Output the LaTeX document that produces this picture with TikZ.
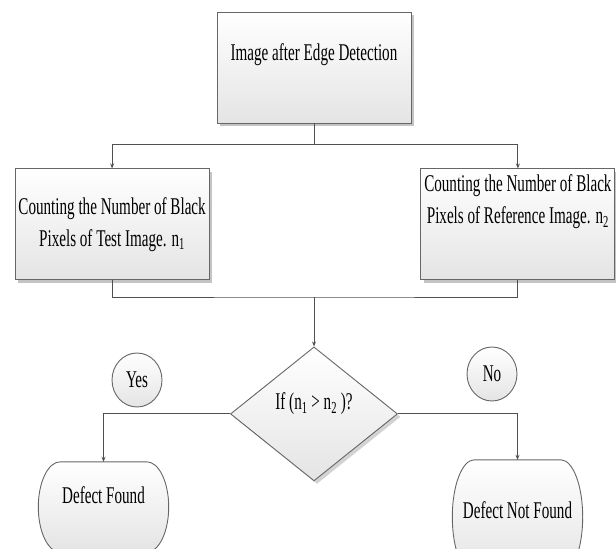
\documentclass[tikz,border=0pt]{standalone}
\usepackage{fontspec}
\setmainfont{Liberation Serif}[FakeStretch=0.63]
\usetikzlibrary{arrows.meta, positioning, shapes.geometric, shadows, calc, backgrounds}
\definecolor{inkgray}{HTML}{505050}
\definecolor{edgegray}{HTML}{666666}
\definecolor{paleshade}{HTML}{E4E4E4}
\definecolor{shadowgray}{HTML}{B5B5B5}
\newcommand{\chartfont}{\fontsize{24}{32}\selectfont}
% terminal outline: flat top and bottom, elliptic corners 22pt wide
\newcommand{\termoutline}[1]{%
  \draw[termline] ([xshift=22pt]#1.north west) -- ([xshift=-22pt]#1.north east)
    .. controls ([xshift=-9.8pt]#1.north east) and ($(#1.east)!0.552!(#1.north east)$) .. (#1.east)
    .. controls ($(#1.east)!0.552!(#1.south east)$) and ([xshift=-9.8pt]#1.south east) .. ([xshift=-22pt]#1.south east)
    -- ([xshift=22pt]#1.south west)
    .. controls ([xshift=9.8pt]#1.south west) and ($(#1.west)!0.552!(#1.south west)$) .. (#1.west)
    .. controls ($(#1.west)!0.552!(#1.north west)$) and ([xshift=9.8pt]#1.north west) .. ([xshift=22pt]#1.north west)
    -- cycle;}
\tikzset{
  proc/.style={draw=edgegray, line width=0.9pt, top color=white, bottom color=paleshade,
               minimum width=194pt, minimum height=111pt, inner sep=2pt,
               align=center, font=\chartfont,
               drop shadow={shadow xshift=3pt, shadow yshift=-3pt, fill=shadowgray, opacity=0.8}},
  decide/.style={diamond, draw=edgegray, line width=0.9pt, top color=white, bottom color=paleshade,
                 minimum width=167pt, minimum height=134pt, inner sep=0pt,
                 drop shadow={shadow xshift=3pt, shadow yshift=-3pt, fill=shadowgray, opacity=0.6}},
  tag/.style={ellipse, draw=edgegray, line width=0.9pt, top color=white, bottom color=paleshade,
              minimum width=50pt, minimum height=54pt, inner sep=0pt, font=\chartfont},
  term/.style={rectangle, minimum width=130pt, inner sep=0pt},
  termline/.style={draw=edgegray, line width=0.9pt, top color=white, bottom color=paleshade},
  intext/.style={anchor=center, font=\chartfont, align=center},
  flow/.style={-{Stealth[length=5pt, width=4pt]}, line width=0.9pt, inkgray},
  wire/.style={line width=0.9pt, inkgray},
}
\begin{document}
\begin{tikzpicture}[x=1pt, y=-1pt]
  \useasboundingbox (0,0) rectangle (616,549);

  % ---- input image ----
  \node[proc, label={[intext, yshift=-43pt]north:Image after Edge Detection}] (img) at (314,67.5) {};

  % ---- pixel counts ----
  \node[proc, below left=45pt and 7pt of img] (test)
    {Counting the Number of Black\\Pixels of Test Image. n\textsubscript{1}};
  \node[proc, below right=45pt and 9pt of img,
        label={[intext, yshift=-33.5pt]north:Counting the Number of Black\\Pixels of Reference Image. n\textsubscript{2}}] (ref) {};

  % ---- decision ----
  \node[decide, below=223pt of img,
        label={[intext, yshift=-57pt]north:If (n\textsubscript{1} > n\textsubscript{2} )?}] (dec) {};
  \node[tag] (yes) at (137,380) {Yes};
  \node[tag] (no) at (492,374) {No};

  % ---- outcomes ----
  \node[term, minimum height=90pt, label={[intext, yshift=-33pt]north:Defect Found}] (found) at (103.5,507) {};
  \node[term, minimum height=114pt, label={[intext, yshift=-50pt]north:Defect Not Found}] (notfound) at (517.5,517) {};
  \begin{scope}[on background layer]
    \termoutline{found}
    \termoutline{notfound}
  \end{scope}

  % ---- edges ----
  \coordinate (split) at (314,144);
  \coordinate (merge) at (314,297);
  \draw[wire] (img) -- (split);
  \draw[flow] (split) -| (test);
  \draw[flow] (split) -| (ref);
  \draw[wire] (test) |- (merge) -| (ref);
  \draw[flow] (merge) -- (dec);
  \draw[flow] (dec.west) -| (found);
  \draw[flow] (dec.east) -| (notfound);
\end{tikzpicture}
\end{document}
